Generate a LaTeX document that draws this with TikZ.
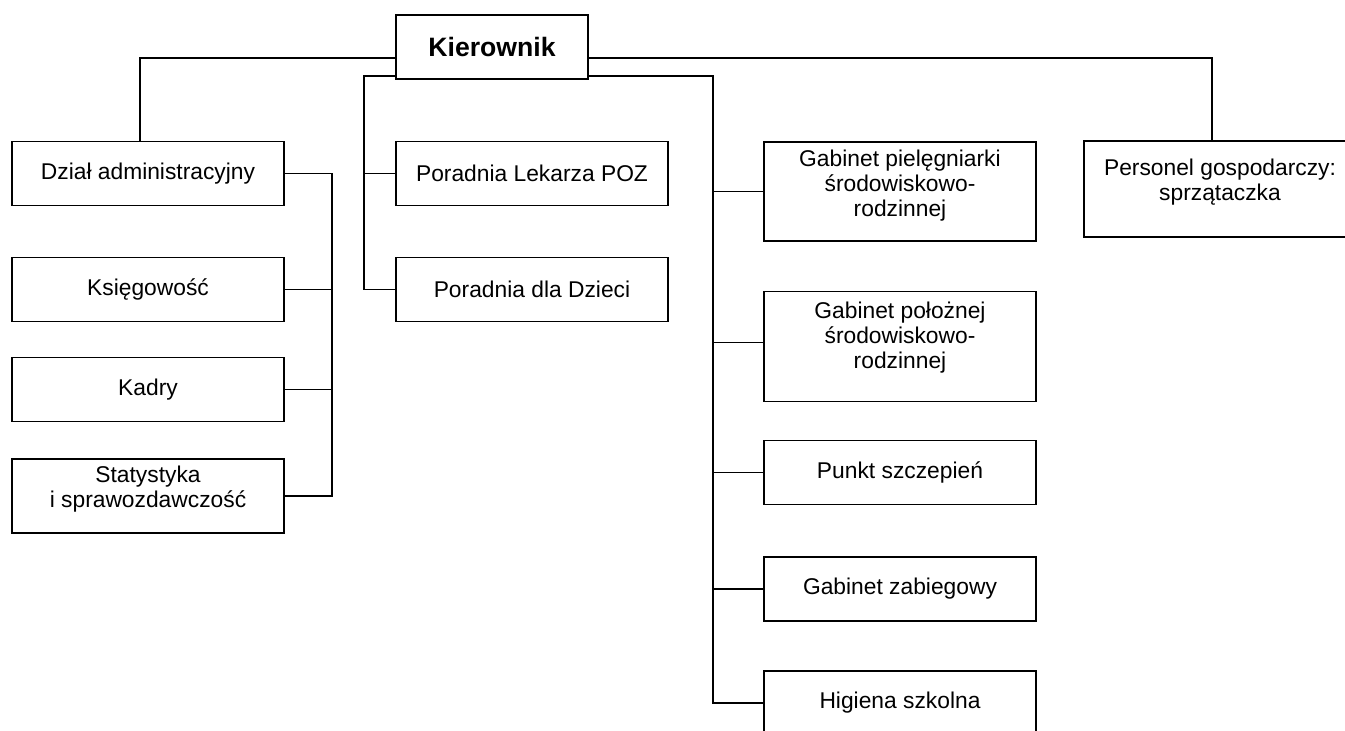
\documentclass[tikz,border=0pt]{standalone}
\usepackage{fontspec}
\setmainfont{Liberation Sans}
\usetikzlibrary{positioning, calc}

\begin{document}
\begin{tikzpicture}[
    x=0.5pt, y=-0.5pt,
    node distance=25.25pt,
    unit/.style={rectangle, draw=black, line width=0.8pt, minimum width=136pt, minimum height=32pt, align=center, font=\fontsize{11.4}{12.5}\selectfont},
    head/.style={unit, minimum width=96pt, font=\bfseries\fontsize{13.3}{15}\selectfont},
    link/.style={line width=0.8pt}
]
    \useasboundingbox (0,0) rectangle (1345,731);

    \node[head] (kierownik) at (492,47) {Kierownik};

    \node[unit] (dzial) at (148,173.5) {Dział administracyjny};
    \node[unit, below=of dzial] (ksiegowosc) {Księgowość};
    \node[unit, below=17.25pt of ksiegowosc] (kadry) {Kadry};
    \node[unit, below=17.75pt of kadry, minimum height=37.2pt, text depth=9.7pt] (statystyka) {Statystyka\\i sprawozdawczość};

    \node[unit] (poz) at (532,173.5) {Poradnia Lekarza POZ};
    \node[unit, below=of poz] (dzieci) {Poradnia dla Dzieci};

    \node[unit, minimum height=49.5pt, text depth=8.4pt] (pielegniarka) at (900,191.5) {Gabinet pielęgniarki\\środowiskowo-\\rodzinnej};
    \node[unit, below=24.5pt of pielegniarka, minimum height=55pt, text depth=11.7pt] (polozna) {Gabinet położnej\\środowiskowo-\\rodzinnej};
    \node[unit, below=18.75pt of polozna] (szczepienia) {Punkt szczepień};
    \node[unit, below=25.25pt of szczepienia] (zabiegowy) {Gabinet zabiegowy};
    \node[unit, below=24.25pt of zabiegowy] (higiena) {Higiena szkolna};

    \node[unit, minimum height=48pt, text depth=8.8pt] (personel) at (1220,189) {Personel gospodarczy:\\sprzątaczka};

    \coordinate (busL) at ([xshift=23.5pt]dzial.east);
    \coordinate (busM) at ([xshift=-15.75pt]poz.west);
    \coordinate (busR) at ([xshift=-25pt]pielegniarka.west);

    \draw[link] ([yshift=-5.5pt]kierownik.west) -| ([xshift=-4pt]dzial.north);
    \draw[link] ([yshift=-5.5pt]kierownik.east) -| ([xshift=-4pt]personel.north);

    \draw[link] ([yshift=2pt]kierownik.south west) -| (busM |- dzieci.west) -- (dzieci.west);
    \draw[link] (busM) -- (poz.west);

    \draw[link] ([yshift=2pt]kierownik.south east) -| (busR |- higiena.west) -- (higiena.west);
    \foreach \n in {pielegniarka, szczepienia, zabiegowy}
        \draw[link] (\n.west) -- (busR |- \n.west);
    \draw[link] ([yshift=2pt]polozna.west) -- ++(-25pt,0);

    \draw[link] (dzial.east) -| (busL |- statystyka.east) -- (statystyka.east);
    \foreach \n in {ksiegowosc, kadry}
        \draw[link] (\n.east) -- (busL |- \n.east);
\end{tikzpicture}
\end{document}
